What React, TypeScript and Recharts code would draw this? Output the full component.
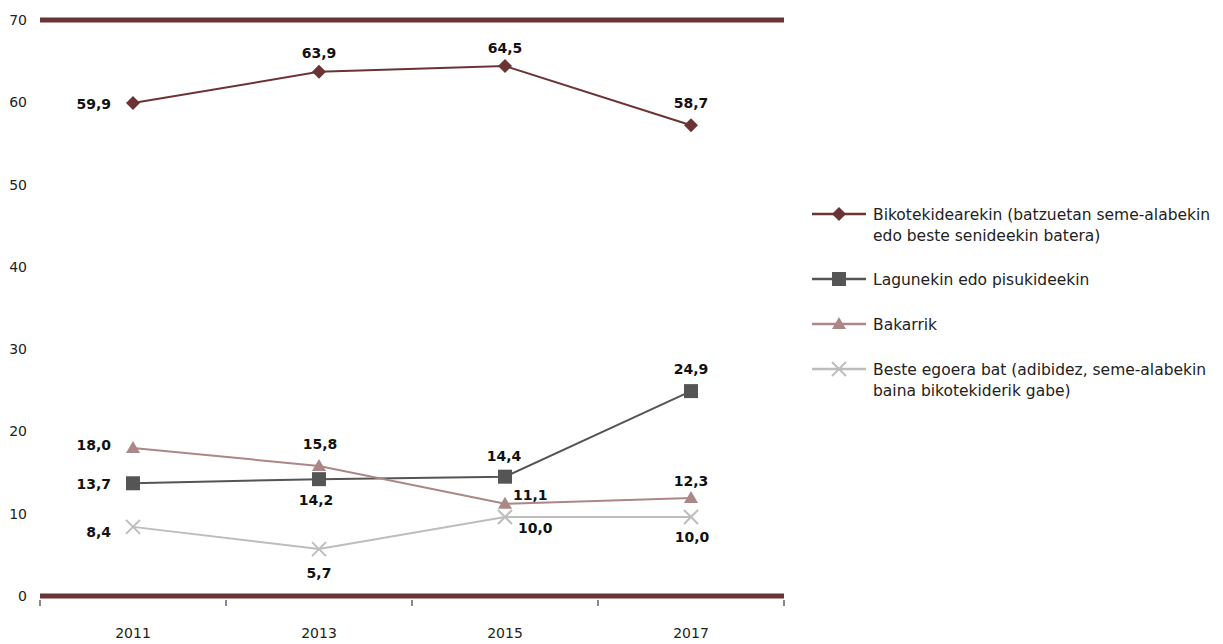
import React from "react";
import { LineChart, Line, XAxis, YAxis, ReferenceLine, Legend } from "recharts";

const years = ["2011", "2013", "2015", "2017"];

const coupleValues = [59.9, 63.7, 64.4, 57.2];
const coupleLabels = ["59,9", "63,9", "64,5", "58,7"];

const friendsValues = [13.7, 14.2, 14.5, 24.9];
const friendsLabels = ["13,7", "14,2", "14,4", "24,9"];

const aloneValues = [18.0, 15.8, 11.2, 11.9];
const aloneLabels = ["18,0", "15,8", "11,1", "12,3"];

const otherValues = [8.4, 5.7, 9.6, 9.6];
const otherLabels = ["8,4", "5,7", "10,0", "10,0"];

const yTicks = [0, 10, 20, 30, 40, 50, 60, 70];

const seriesNames = [
  "Bikotekidearekin (batzuetan seme-alabekin\nedo beste senideekin batera)",
  "Lagunekin edo pisukideekin",
  "Bakarrik",
  "Beste egoera bat (adibidez, seme-alabekin\nbaina bikotekiderik gabe)",
];

const data = years.map((year, i) => ({
  year,
  couple: coupleValues[i],
  friends: friendsValues[i],
  alone: aloneValues[i],
  other: otherValues[i],
}));

// layout / style constants
const WIDTH = 1223;
const HEIGHT = 644;
const MARGIN = { top: 20, right: 439, bottom: 0, left: 0 };
const Y_AXIS_W = 40;
const X_AXIS_H = 48;
const PLOT_W = WIDTH - MARGIN.left - MARGIN.right - Y_AXIS_W;
const HALF_BAND = PLOT_W / years.length / 2;
const FRAME = "#6b3333";
const FONT = "'DejaVu Sans', sans-serif";

type Placement = { anchor: "start" | "middle" | "end"; dx: number; dy: number };

const series = [
  {
    key: "couple",
    name: seriesNames[0],
    color: "#6b3333",
    shape: "diamond",
    labels: coupleLabels,
    placements: [
      { anchor: "end", dx: -22, dy: 1 },
      { anchor: "middle", dx: 0, dy: -19 },
      { anchor: "middle", dx: 0, dy: -18 },
      { anchor: "middle", dx: 0, dy: -22 },
    ] as Placement[],
  },
  {
    key: "friends",
    name: seriesNames[1],
    color: "#555555",
    shape: "square",
    labels: friendsLabels,
    placements: [
      { anchor: "end", dx: -22, dy: 1 },
      { anchor: "middle", dx: -3, dy: 21 },
      { anchor: "middle", dx: -1, dy: -21 },
      { anchor: "middle", dx: 0, dy: -22 },
    ] as Placement[],
  },
  {
    key: "alone",
    name: seriesNames[2],
    color: "#ab8787",
    shape: "triangle",
    labels: aloneLabels,
    placements: [
      { anchor: "end", dx: -22, dy: -3 },
      { anchor: "middle", dx: 1, dy: -22 },
      { anchor: "start", dx: 8, dy: -9 },
      { anchor: "middle", dx: 0, dy: -17 },
    ] as Placement[],
  },
  {
    key: "other",
    name: seriesNames[3],
    color: "#bdbdbd",
    shape: "cross",
    labels: otherLabels,
    placements: [
      { anchor: "end", dx: -22, dy: 5 },
      { anchor: "middle", dx: 0, dy: 24 },
      { anchor: "start", dx: 13, dy: 11 },
      { anchor: "middle", dx: 1, dy: 20 },
    ] as Placement[],
  },
];

const legendGaps = [0, 23, 24, 24];

function renderMarker(shape: string, cx: number, cy: number, color: string) {
  switch (shape) {
    case "diamond":
      return (
        <polygon
          points={`${cx},${cy - 7} ${cx + 7},${cy} ${cx},${cy + 7} ${cx - 7},${cy}`}
          fill={color}
        />
      );
    case "square":
      return <rect x={cx - 7} y={cy - 7} width={14} height={14} fill={color} />;
    case "triangle":
      return (
        <polygon
          points={`${cx},${cy - 7} ${cx + 7},${cy + 5} ${cx - 7},${cy + 5}`}
          fill={color}
        />
      );
    default:
      return (
        <g stroke={color} strokeWidth={2}>
          <line x1={cx - 7} y1={cy - 7} x2={cx + 7} y2={cy + 7} />
          <line x1={cx - 7} y1={cy + 7} x2={cx + 7} y2={cy - 7} />
        </g>
      );
  }
}

const makeDot = (s: (typeof series)[number]) => (props: any) => {
  const { cx, cy, index } = props;
  if (cx == null || cy == null) return <g key={`${s.key}-d-${index}`} />;
  const p = s.placements[index];
  return (
    <g key={`${s.key}-d-${index}`}>
      {renderMarker(s.shape, cx, cy, s.color)}
      <text
        x={cx + p.dx}
        y={cy + p.dy}
        textAnchor={p.anchor}
        dominantBaseline="central"
        fontSize={14}
        fontWeight="bold"
        fill="#111"
        fontFamily={FONT}
      >
        {s.labels[index]}
      </text>
    </g>
  );
};

const XTick = (props: any) => {
  const { x, y, payload, index, visibleTicksCount } = props;
  return (
    <g>
      <line x1={x - HALF_BAND} x2={x - HALF_BAND} y1={y + 4} y2={y + 10} stroke="#111" strokeWidth={1} />
      {index === visibleTicksCount - 1 && (
        <line x1={x + HALF_BAND} x2={x + HALF_BAND} y1={y + 4} y2={y + 10} stroke="#111" strokeWidth={1} />
      )}
      <text x={x} y={y + 37} textAnchor="middle" dominantBaseline="central" fontSize={14} fill="#222" fontFamily={FONT}>
        {payload.value}
      </text>
    </g>
  );
};

const LegendContent = () => (
  <div
    style={{
      display: "flex",
      flexDirection: "column",
      fontSize: 15.5,
      color: "#222",
      lineHeight: "21px",
      fontFamily: FONT,
      textAlign: "left",
    }}
  >
    {series.map((s, i) => (
      <div key={s.key} style={{ display: "flex", alignItems: "flex-start", marginTop: legendGaps[i] }}>
        <svg width={54} height={21} style={{ flex: "none" }}>
          <line x1={0} x2={54} y1={9} y2={9} stroke={s.color} strokeWidth={2.5} />
          {renderMarker(s.shape, 27, 9, s.color)}
        </svg>
        <div style={{ marginLeft: 7, whiteSpace: "pre-line" }}>{s.name}</div>
      </div>
    ))}
  </div>
);

export default function App() {
  return (
    <div style={{ position: "absolute", left: 0, top: 0, width: WIDTH, height: HEIGHT, fontFamily: FONT, background: "#fff" }}>
      <LineChart width={WIDTH} height={HEIGHT} data={data} margin={MARGIN}>
        <XAxis
          dataKey="year"
          height={X_AXIS_H}
          axisLine={false}
          tickLine={false}
          tickSize={0}
          tickMargin={0}
          padding={{ left: HALF_BAND, right: HALF_BAND }}
          tick={<XTick />}
          interval={0}
        />
        <YAxis
          width={Y_AXIS_W}
          domain={[0, 70]}
          ticks={yTicks}
          axisLine={false}
          tickLine={false}
          tickSize={8}
          tickMargin={5}
          tick={{ fontSize: 14, fill: "#222", fontFamily: FONT }}
          interval={0}
        />
        <ReferenceLine y={70} stroke={FRAME} strokeWidth={5} />
        <ReferenceLine y={0} stroke={FRAME} strokeWidth={5} />
        {series.map((s) => (
          <Line
            key={s.key}
            dataKey={s.key}
            name={s.name}
            stroke={s.color}
            strokeWidth={2}
            dot={makeDot(s)}
            activeDot={false}
            isAnimationActive={false}
          />
        ))}
        <Legend
          layout="vertical"
          align="center"
          verticalAlign="middle"
          content={<LegendContent />}
          wrapperStyle={{ left: 812, top: 205, width: 411 }}
        />
      </LineChart>
    </div>
  );
}
